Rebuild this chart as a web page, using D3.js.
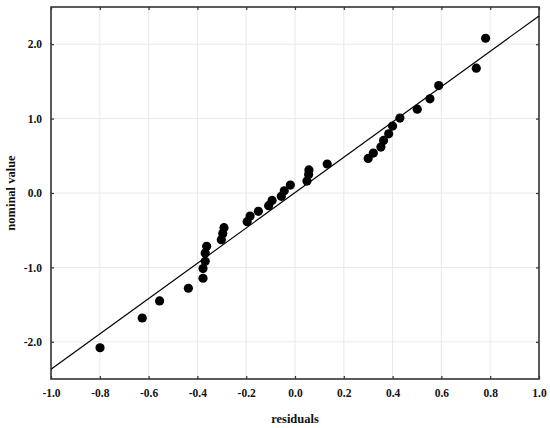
<!DOCTYPE html>
<html>
<head>
<meta charset="utf-8">
<script src="https://cdn.jsdelivr.net/npm/d3@7"></script>
<style>
  body { margin: 0; background: #fff; }
  .tick text { font-family: "Liberation Serif", "DejaVu Serif", serif; font-weight: bold; font-size: 11.5px; fill: #111; }
  .title { font-family: "Liberation Serif", "DejaVu Serif", serif; font-weight: bold; font-size: 12.5px; fill: #111; }
</style>
</head>
<body>
<div id="chart"></div>
<script>
// chart size and margins (plot frame goes from x=51..539, y=7..379)
var svgWidth = 550
  , svgHeight = 428
  , margin = {top: 7, right: 11, bottom: 49, left: 51}
  , width = svgWidth - margin.left - margin.right
  , height = svgHeight - margin.top - margin.bottom

// data
var residuals = [-0.799, -0.626, -0.555, -0.437, -0.377, -0.377, -0.368, -0.368, -0.362,
                 -0.302, -0.296, -0.291, -0.196, -0.184, -0.150, -0.108, -0.094, -0.056,
                 -0.044, -0.019, 0.049, 0.056, 0.057, 0.132, 0.300, 0.321, 0.352, 0.363,
                 0.384, 0.400, 0.430, 0.501, 0.553, 0.589, 0.743, 0.781]
var nominal = [-2.08, -1.68, -1.45, -1.28, -1.146, -1.016, -0.918, -0.806, -0.716,
               -0.627, -0.546, -0.466, -0.385, -0.31, -0.246, -0.17, -0.10, -0.045,
               0.03, 0.107, 0.16, 0.25, 0.31, 0.39, 0.465, 0.537, 0.617, 0.706,
               0.796, 0.90, 1.007, 1.127, 1.266, 1.444, 1.678, 2.08]
// reference line end points
var lineX = [-1.0, 1.0]
var lineY = [-2.37, 2.38]

var xTicks = [-1.0, -0.8, -0.6, -0.4, -0.2, 0.0, 0.2, 0.4, 0.6, 0.8, 1.0]
var yTicks = [-2.0, -1.0, 0.0, 1.0, 2.0]

var svg = d3.select("#chart").append("svg")
    .attr("width", svgWidth)
    .attr("height", svgHeight)

var g = svg.append("g")
    .attr("transform", "translate(" + margin.left + "," + margin.top + ")")

var x = d3.scaleLinear().domain([-1, 1]).range([0, width])
var y = d3.scaleLinear().domain([-2.5, 2.5]).range([height, 0])

// grid
g.append("g").selectAll("line").data(xTicks.slice(1, -1)).enter().append("line")
    .attr("x1", d => x(d)).attr("x2", d => x(d))
    .attr("y1", 0).attr("y2", height)
    .attr("stroke", "#e8e8e8").attr("stroke-width", 1)
g.append("g").selectAll("line").data(yTicks).enter().append("line")
    .attr("y1", d => y(d)).attr("y2", d => y(d))
    .attr("x1", 0).attr("x2", width)
    .attr("stroke", "#e8e8e8").attr("stroke-width", 1)

var fmt = d3.format(".1f")
var fmtMinus = d => fmt(d).replace("\u2212", "-")

// axes with inner ticks
var xAxis = g.append("g").attr("transform", "translate(0," + height + ")")
    .call(d3.axisBottom(x).tickValues(xTicks).tickFormat(fmtMinus).tickSizeInner(-3).tickSizeOuter(0).tickPadding(10))
var yAxis = g.append("g")
    .call(d3.axisLeft(y).tickValues(yTicks).tickFormat(fmtMinus).tickSizeInner(-3).tickSizeOuter(0).tickPadding(9))
var xTop = g.append("g")
    .call(d3.axisTop(x).tickValues(xTicks).tickFormat("").tickSizeInner(-3).tickSizeOuter(0))
var yRight = g.append("g").attr("transform", "translate(" + width + ",0)")
    .call(d3.axisRight(y).tickValues(yTicks).tickFormat("").tickSizeInner(-3).tickSizeOuter(0))

;[xAxis, yAxis, xTop, yRight].forEach(function(a) {
    a.select(".domain").remove()
    a.selectAll(".tick line").attr("stroke", "#333").attr("stroke-width", 1.2)
})

// frame
g.append("rect")
    .attr("x", 0).attr("y", 0)
    .attr("width", width).attr("height", height)
    .attr("fill", "none").attr("stroke", "#333").attr("stroke-width", 1.6)

// reference line
g.append("line")
    .attr("x1", x(lineX[0])).attr("y1", y(lineY[0]))
    .attr("x2", x(lineX[1])).attr("y2", y(lineY[1]))
    .attr("stroke", "#000").attr("stroke-width", 1.2)

// points
g.append("g").selectAll("circle")
    .data(residuals.map((r, i) => [r, nominal[i]]))
  .enter().append("circle")
    .attr("cx", d => x(d[0]))
    .attr("cy", d => y(d[1]))
    .attr("r", 4.6)
    .attr("fill", "#000")

// axis titles
svg.append("text").attr("class", "title")
    .attr("x", margin.left + width / 2).attr("y", 423)
    .attr("text-anchor", "middle")
    .text("residuals")
svg.append("text").attr("class", "title")
    .attr("transform", "translate(15," + (margin.top + height / 2) + ") rotate(-90)")
    .attr("text-anchor", "middle")
    .text("nominal value")
</script>
</body>
</html>
